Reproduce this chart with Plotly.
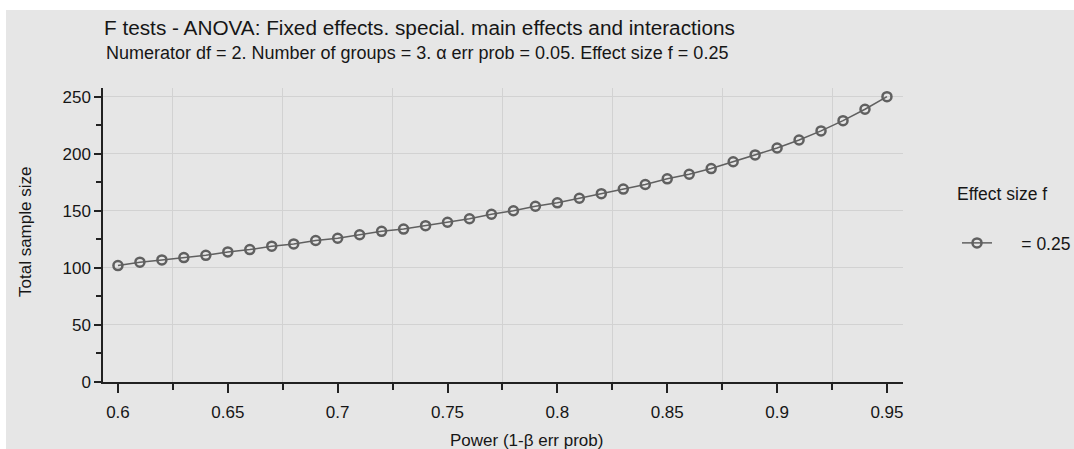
import plotly.graph_objects as go

power = [0.60, 0.61, 0.62, 0.63, 0.64, 0.65, 0.66, 0.67, 0.68, 0.69,
         0.70, 0.71, 0.72, 0.73, 0.74, 0.75, 0.76, 0.77, 0.78, 0.79,
         0.80, 0.81, 0.82, 0.83, 0.84, 0.85, 0.86, 0.87, 0.88, 0.89,
         0.90, 0.91, 0.92, 0.93, 0.94, 0.95]
total_n = [102, 105, 107, 109, 111, 114, 116, 119, 121, 124,
           126, 129, 132, 134, 137, 140, 143, 147, 150, 154,
           157, 161, 165, 169, 173, 178, 182, 187, 193, 199,
           205, 212, 220, 229, 239, 250]
series_name = "= 0.25"
legend_title = "Effect size f"
title_text = "F tests - ANOVA: Fixed effects. special. main effects and interactions"
subtitle_text = "Numerator df = 2. Number of groups = 3. α err prob = 0.05. Effect size f = 0.25"
x_title = "Power (1-β err prob)"
y_title = "Total sample size"

W, H = 1074, 449
L, R, T, B = 103, 171, 88, 67
PW, PH = W - L - R, H - T - B

def px_x(p):
    return (p - L) / PW

def px_y(p):
    return (H - B - p) / PH

FONT = "Liberation Sans, Arial, Helvetica, sans-serif"
BG = "#e6e6e6"
GRID = "#d2d2d2"
LINE = "#606060"
TXT = "#161616"

fig = go.Figure()
fig.add_trace(go.Scatter(
    x=power, y=total_n, mode="lines+markers",
    name="\u00a0" * 5 + series_name,
    line=dict(color=LINE, width=1.5),
    marker=dict(symbol="circle-open", size=9, color=LINE, line=dict(width=2.5, color=LINE)),
))

fig.update_layout(
    width=W, height=H,
    margin=dict(l=L, r=R, t=T, b=B),
    paper_bgcolor="white",
    plot_bgcolor="rgba(0,0,0,0)",
    font=dict(family=FONT, size=17, color=TXT),
    title=dict(text=title_text, x=104 / W, xanchor="left", y=1 - 28 / H, yanchor="middle",
               font=dict(size=20.75, color=TXT)),
    showlegend=True,
    legend=dict(xref="container", yref="container", x=957 / W, xanchor="left",
                y=1 - 243 / H, yanchor="middle",
                bgcolor="rgba(0,0,0,0)", font=dict(size=17.5, color=TXT)),
    shapes=[dict(type="rect", xref="paper", yref="paper", layer="below",
                 x0=px_x(6), x1=px_x(W + 20), y0=px_y(H + 20), y1=px_y(10),
                 fillcolor=BG, line=dict(width=0))],
    annotations=[
        dict(text=subtitle_text, xref="paper", yref="paper", x=px_x(104), xanchor="left",
             y=px_y(53), yanchor="middle", showarrow=False, font=dict(size=18, color=TXT)),
        dict(text=legend_title, xref="paper", yref="paper", x=px_x(955), xanchor="left",
             y=px_y(194), yanchor="middle", showarrow=False, font=dict(size=17.5, color=TXT)),
        dict(text=x_title, xref="paper", yref="paper", x=px_x(526), xanchor="center",
             y=px_y(440), yanchor="middle", showarrow=False, font=dict(size=17, color=TXT)),
        dict(text=y_title, xref="paper", yref="paper", x=px_x(25), xanchor="center",
             y=px_y(232), yanchor="middle", showarrow=False, textangle=-90,
             font=dict(size=17, color=TXT)),
    ],
)

fig.update_xaxes(
    range=[0.5932, 0.9573], showline=True, linecolor="#222", linewidth=1.5,
    ticks="outside", ticklen=9, tickwidth=1.5, tickcolor="#222",
    dtick=0.05, tick0=0.6, showgrid=False, zeroline=False, automargin=False,
    ticklabelstandoff=5, tickfont=dict(size=17, color=TXT),
    minor=dict(dtick=0.05, tick0=0.625, ticks="outside", ticklen=6, tickwidth=1.5,
               tickcolor="#222", showgrid=True, gridcolor=GRID, gridwidth=1),
)
fig.update_yaxes(
    range=[0, 257.6], showline=True, linecolor="#222", linewidth=1.5,
    ticks="outside", ticklen=7, tickwidth=1.5, tickcolor="#222",
    dtick=50, tick0=0, showgrid=True, gridcolor=GRID, gridwidth=1, zeroline=False,
    automargin=False, tickfont=dict(size=17, color=TXT),
    minor=dict(dtick=25, tick0=0, ticks="outside", ticklen=5, tickwidth=1.5,
               tickcolor="#222", showgrid=False),
)

fig.write_html("out.html", config={"displayModeBar": False},
               post_script="document.body.style.margin='0';")
